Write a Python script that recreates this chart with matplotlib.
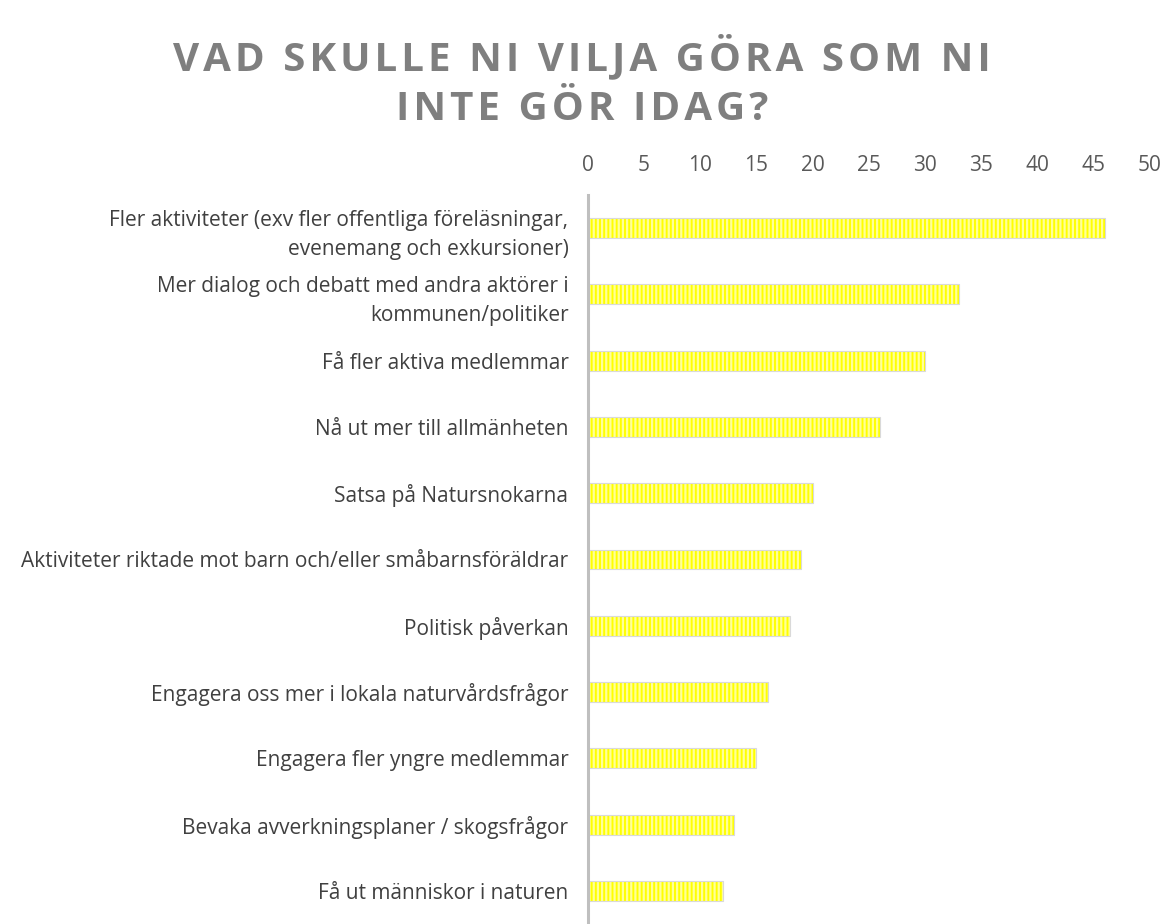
#!/usr/bin/env python3
"""Horizontal bar chart: Vad skulle ni vilja göra som ni inte gör idag?"""

import matplotlib
matplotlib.use("Agg")
import matplotlib.pyplot as plt

categories = [
    "Fler aktiviteter (exv fler offentliga föreläsningar,\nevenemang och exkursioner)",
    "Mer dialog och debatt med andra aktörer i\nkommunen/politiker",
    "Få fler aktiva medlemmar",
    "Nå ut mer till allmänheten",
    "Satsa på Natursnokarna",
    "Aktiviteter riktade mot barn och/eller småbarnsföräldrar",
    "Politisk påverkan",
    "Engagera oss mer i lokala naturvårdsfrågor",
    "Engagera fler yngre medlemmar",
    "Bevaka avverkningsplaner / skogsfrågor",
    "Få ut människor i naturen",
]
values = [46, 33, 30, 26, 20, 19, 18, 16, 15, 13, 12]
xticks = [0, 5, 10, 15, 20, 25, 30, 35, 40, 45, 50]
title_lines = ["VAD SKULLE NI VILJA GÖRA SOM NI", "INTE GÖR IDAG?"]

plt.rcParams["font.family"] = ["Open Sans", "DejaVu Sans"]
plt.rcParams["hatch.linewidth"] = 1.6

fig = plt.figure(figsize=(11.64, 9.24), dpi=100)
ax = fig.add_axes([0.505, 0.0, 0.483, 0.789])

y = list(range(len(categories)))
ax.barh(y, values, height=0.3, color="#FFFF00", edgecolor="#FFFF99",
        hatch="||||", linewidth=0)
ax.barh(y, values, height=0.3, fill=False, edgecolor="#D9D9D9", linewidth=0.8)

ax.set_xlim(0, 50)
ax.set_ylim(10.5, -0.5)
ax.set_xticks(xticks)
ax.set_yticks(y)
ax.set_yticklabels(categories, fontsize=15, color="#404040")
ax.xaxis.tick_top()
ax.tick_params(axis="x", length=0, pad=14, labelsize=15, labelcolor="#595959")
ax.tick_params(axis="y", length=0, pad=14)
for lab in ax.get_yticklabels():
    lab.set_horizontalalignment("right")
    lab.set_multialignment("right")
    lab.set_linespacing(1.5)

for s in ("top", "right", "bottom"):
    ax.spines[s].set_visible(False)
ax.spines["left"].set_color("#BFBFBF")
ax.spines["left"].set_linewidth(2.2)

# wide letter spacing like the original title (hair spaces between letters)
spaced = "\n".join("\u200a".join(line) for line in title_lines)
fig.text(0.5, 0.912, spaced, ha="center", va="center", fontsize=29,
         fontweight="bold", color="#7F7F7F", linespacing=1.35)

fig.savefig("out.png", dpi=100)
